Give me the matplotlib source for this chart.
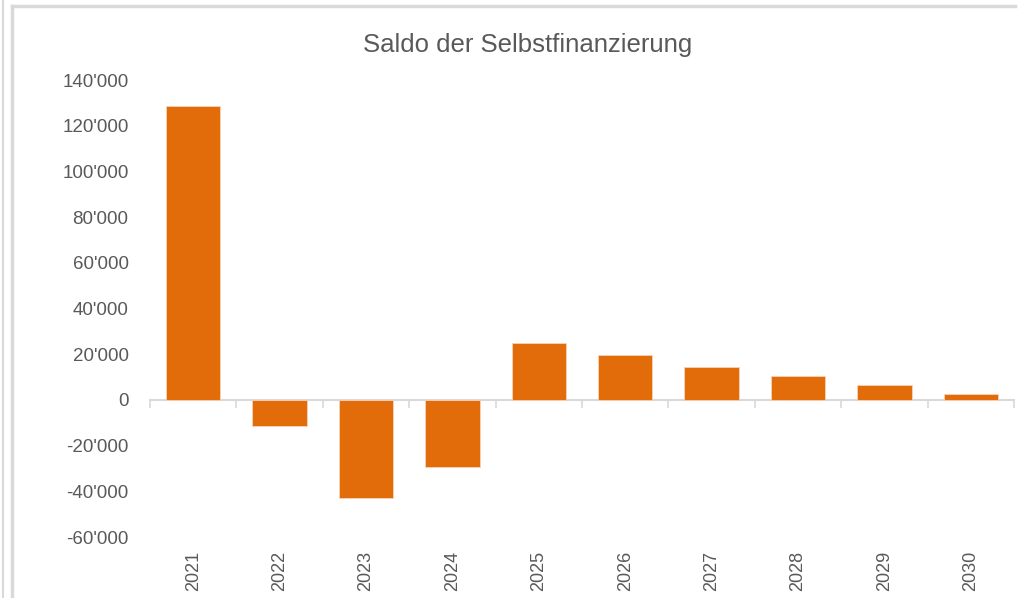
import matplotlib.pyplot as plt
from matplotlib.lines import Line2D
from matplotlib.ticker import FuncFormatter

# Saldo der Selbstfinanzierung, 2021-2030

years = ["2021", "2022", "2023", "2024", "2025", "2026", "2027", "2028", "2029", "2030"]
saldo = [128600, -11400, -42900, -29300, 24800, 19700, 14300, 10500, 6600, 2600]

grey = "#595959"
plt.rcParams["font.family"] = ["Liberation Sans Narrow", "Liberation Sans", "DejaVu Sans"]

fig = plt.figure(figsize=(10.22, 5.98), dpi=100)
ax = fig.add_axes([0.1468, 0.102, 0.8454, 0.764])

x = range(len(years))
ax.bar(x, saldo, width=0.63, color="#E36C0A", edgecolor="#f6d3b8", linewidth=0.6, zorder=3)

ax.set_xlim(-0.5, len(years) - 0.5)
ax.set_ylim(-60000, 140000)
ax.set_yticks(range(-60000, 140001, 20000))
ax.yaxis.set_major_formatter(FuncFormatter(lambda v, p: f"{int(v):,}".replace(",", "'")))
ax.tick_params(axis="y", length=0, pad=15.5, labelsize=13.5, labelcolor=grey)

ax.set_xticks(list(x))
ax.set_xticklabels(years, rotation=90, va="top")
ax.tick_params(axis="x", length=0, pad=10, labelsize=13, labelcolor=grey)

for s in ax.spines.values():
    s.set_visible(False)

# category axis drawn at zero
sec = ax.secondary_xaxis(60000 / 200000)
sec.set_xticks([i - 0.5 for i in range(len(years) + 1)])
sec.set_xticklabels([])
sec.tick_params(axis="x", direction="out", length=6, width=1.2, color="#d9d9d9")
sec.spines["bottom"].set_color("#d9d9d9")
sec.spines["bottom"].set_linewidth(1.5)

fig.text(0.516, 0.925, "Saldo der Selbstfinanzierung", ha="center", va="center",
         fontsize=18.5, color=grey)

# chart frame
W, H = 1022, 598
fig.add_artist(Line2D([12 / W, 1015 / W], [1 - 5.5 / H, 1 - 5.5 / H], color="#d9d9d9", lw=2.5))
fig.add_artist(Line2D([12 / W, 12 / W], [0, 1 - 5.5 / H], color="#d9d9d9", lw=2.5))
fig.add_artist(Line2D([3 / W, 3 / W], [0, 1], color="#d9d9d9", lw=1.5))

fig.savefig("out.png", dpi=100)
